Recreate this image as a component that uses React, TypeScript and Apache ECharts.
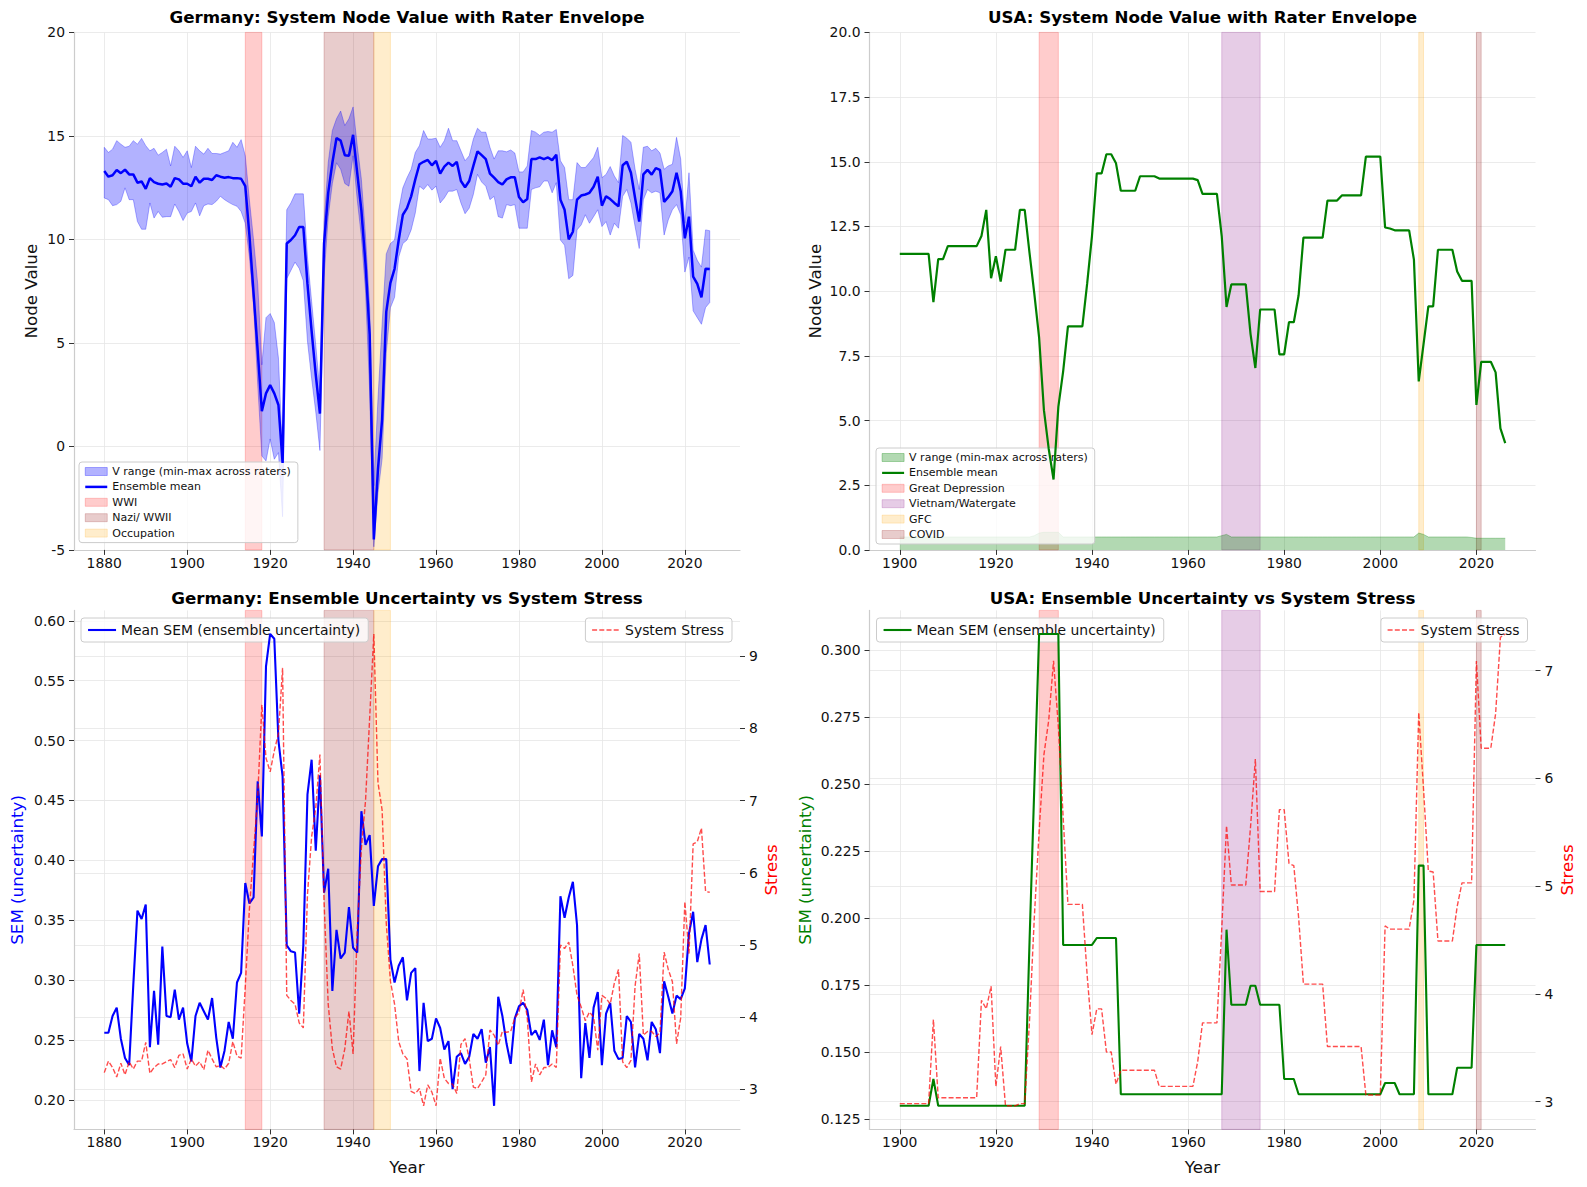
import React, { useEffect, useRef } from 'react';
import * as echarts from 'echarts';

const FONT = "'DejaVu Sans', sans-serif";
const SPINE = '#cccccc';
const TICK = '#333333';
const GRID = '#e6e6e6';
const TXT = '#111111';

// ---------------- Germany, 1880–2026 ----------------
const deYears = Array.from({ length: 147 }, (_, i) => 1880 + i);

const deMean = [
  13.3, 13.03, 13.1, 13.35, 13.2, 13.37, 13.14, 13.14, 12.74, 12.8,
  12.44, 12.96, 12.77, 12.69, 12.65, 12.7, 12.54, 12.96, 12.9, 12.69,
  12.69, 12.57, 13.03, 12.74, 12.93, 12.93, 12.87, 13.1, 13.03, 12.98,
  13.01, 12.96, 12.96, 12.93, 12.57, 10.2, 7.4, 4.6, 1.7, 2.56,
  2.96, 2.56, 2.0, -0.8, 9.8, 9.97, 10.2, 10.6, 10.6, 7.85,
  5.57, 3.45, 1.58, 9.8, 12.25, 13.7, 14.9, 14.77, 14.07, 14.04,
  15.05, 13.2, 11.4, 8.8, 5.4, -4.5, -1.1, 1.3, 6.5, 7.9,
  8.58, 9.97, 11.19, 11.51, 12.08, 12.9, 13.63, 13.75, 13.84, 13.58,
  13.79, 13.18, 13.52, 13.71, 13.55, 13.75, 12.82, 12.52, 12.82, 13.55,
  14.25, 14.07, 13.88, 13.18, 12.98, 12.77, 12.65, 12.9, 13.0, 13.0,
  12.05, 11.79, 11.95, 13.88, 13.88, 13.96, 13.88, 13.96, 13.83, 14.09,
  11.92, 11.43, 10.0, 10.37, 11.92, 12.12, 12.17, 12.25, 12.54, 13.03,
  11.63, 12.08, 11.95, 11.76, 11.6, 13.58, 13.75, 13.22, 12.0, 10.86,
  13.14, 13.36, 13.13, 13.44, 13.36, 11.81, 12.04, 12.33, 13.22, 12.33,
  10.05, 11.1, 8.2, 7.85, 7.2, 8.58, 8.57,
];

const deHigh = [
  14.45, 14.2, 14.36, 14.77, 14.6, 14.45, 14.5, 14.77, 14.6, 14.88,
  14.53, 14.28, 14.4, 14.07, 14.2, 14.36, 13.55, 14.5, 14.28, 13.96,
  14.28, 13.47, 14.5, 14.28, 14.12, 14.4, 14.15, 14.15, 14.12, 14.2,
  14.28, 14.69, 14.45, 14.82, 14.04, 11.9, 9.97, 7.85, 3.94, 6.22,
  6.42, 5.98, 4.27, -0.46, 11.43, 11.76, 12.2, 12.2, 12.2, 9.15,
  7.0, 4.89, 2.64, 10.8, 13.7, 15.26, 15.83, 16.2, 15.5, 15.83,
  16.4, 14.53, 12.9, 10.13, 6.7, -1.9, 2.3, 5.9, 9.3, 9.8,
  9.97, 11.43, 12.49, 12.98, 13.39, 14.2, 14.53, 15.26, 14.85, 14.85,
  14.89, 14.45, 14.77, 15.37, 14.77, 14.77, 14.28, 13.8, 14.04, 14.85,
  15.37, 15.18, 15.18, 14.45, 13.88, 14.28, 14.28, 14.23, 14.32, 14.17,
  13.26, 13.26, 13.55, 15.26, 15.18, 15.02, 15.18, 15.21, 15.18, 15.31,
  13.8, 13.47, 11.92, 11.92, 13.71, 13.47, 13.47, 13.71, 13.96, 14.45,
  12.98, 13.14, 13.52, 13.06, 12.74, 15.02, 14.89, 14.69, 13.39, 12.41,
  14.45, 14.5, 14.28, 14.4, 14.17, 13.39, 13.55, 13.63, 14.93, 13.88,
  10.78, 13.22, 9.48, 8.99, 8.66, 10.46, 10.42,
];

const deLow = [
  12.0, 11.92, 11.63, 11.68, 11.84, 12.49, 11.92, 11.92, 10.86, 10.49,
  10.49, 11.76, 11.03, 11.35, 11.07, 11.1, 11.1, 11.71, 11.35, 10.91,
  11.27, 11.35, 11.76, 11.14, 11.63, 11.71, 11.68, 11.84, 12.08, 11.92,
  11.79, 11.68, 11.6, 11.35, 10.78, 9.15, 6.8, 3.0, -0.46, -0.7,
  0.36, -0.62, -0.3, -3.4, 8.1, 8.5, 8.9, 8.6, 8.0, 5.08,
  3.29, 1.66, -0.2, 8.17, 11.1, 12.7, 13.7, 13.39, 12.7, 12.57,
  14.04, 11.92, 10.13, 7.52, 2.64, -4.85, -2.25, -0.6, 4.5, 6.7,
  7.2, 9.15, 9.8, 9.97, 10.46, 11.27, 12.57, 12.41, 12.65, 12.38,
  12.57, 11.76, 12.0, 12.33, 12.33, 12.41, 11.76, 11.24, 11.51, 12.17,
  13.14, 12.77, 12.57, 11.92, 12.08, 11.1, 11.03, 11.68, 11.63, 11.68,
  10.54, 10.54, 10.54, 12.41, 12.49, 12.54, 12.82, 12.82, 12.25, 12.74,
  9.97, 9.72, 8.1, 8.26, 10.46, 10.7, 11.19, 10.78, 11.1, 11.43,
  10.62, 10.86, 10.21, 10.78, 10.54, 12.08, 12.41, 11.76, 10.62, 9.56,
  11.92, 12.41, 12.25, 12.33, 12.25, 10.21, 10.94, 11.43, 11.68, 11.19,
  8.42, 9.15, 6.55, 6.22, 5.9, 6.71, 6.95,
];

const deSem = [
  0.256, 0.256, 0.27, 0.277, 0.251, 0.235, 0.229, 0.296, 0.358, 0.351,
  0.363, 0.244, 0.291, 0.246, 0.328, 0.27, 0.269, 0.292, 0.267, 0.277,
  0.247, 0.232, 0.27, 0.281, 0.274, 0.267, 0.285, 0.252, 0.227, 0.241,
  0.265, 0.251, 0.298, 0.306, 0.381, 0.364, 0.369, 0.466, 0.42, 0.562,
  0.589, 0.585, 0.5, 0.47, 0.329, 0.324, 0.323, 0.272, 0.329, 0.455,
  0.484, 0.408, 0.471, 0.373, 0.393, 0.291, 0.342, 0.318, 0.323, 0.361,
  0.327, 0.323, 0.441, 0.413, 0.421, 0.362, 0.395, 0.401, 0.401, 0.317,
  0.298, 0.312, 0.319, 0.283, 0.306, 0.31, 0.224, 0.281, 0.249, 0.251,
  0.268, 0.26, 0.242, 0.249, 0.209, 0.236, 0.239, 0.23, 0.236, 0.255,
  0.251, 0.259, 0.231, 0.244, 0.195, 0.286, 0.27, 0.247, 0.23, 0.268,
  0.278, 0.281, 0.275, 0.254, 0.258, 0.25, 0.267, 0.229, 0.258, 0.244,
  0.37, 0.352, 0.369, 0.382, 0.346, 0.218, 0.264, 0.235, 0.277, 0.29,
  0.229, 0.272, 0.281, 0.241, 0.234, 0.235, 0.27, 0.265, 0.227, 0.255,
  0.251, 0.233, 0.265, 0.259, 0.239, 0.299, 0.286, 0.272, 0.287, 0.284,
  0.293, 0.339, 0.357, 0.315, 0.334, 0.346, 0.313,
];

const deStress = [
  3.23, 3.39, 3.3, 3.17, 3.36, 3.2, 3.38, 3.28, 3.39, 3.39,
  3.65, 3.22, 3.3, 3.35, 3.35, 3.38, 3.41, 3.3, 3.47, 3.49,
  3.28, 3.42, 3.32, 3.38, 3.27, 3.54, 3.42, 3.31, 3.33, 3.28,
  3.36, 3.66, 3.46, 3.43, 4.42, 5.5, 6.29, 7.06, 8.33, 7.59,
  7.4, 7.69, 7.93, 8.84, 4.3, 4.23, 4.18, 3.92, 3.85, 5.7,
  6.5, 6.9, 7.64, 5.6, 4.18, 3.56, 3.31, 3.28, 3.56, 4.08,
  3.49, 5.2, 6.34, 7.0, 8.15, 9.31, 7.25, 6.87, 5.3, 4.5,
  4.18, 3.66, 3.49, 3.42, 2.97, 2.94, 3.01, 2.77, 3.06, 2.96,
  2.77, 3.43, 3.15, 3.08, 3.07, 2.94, 3.62, 3.7, 3.42, 3.03,
  3.01, 3.1, 3.2, 3.82, 3.75, 3.61, 3.8, 3.79, 3.8, 3.99,
  4.06, 4.38, 3.99, 3.1, 3.35, 3.2, 3.3, 3.3, 3.35, 3.3,
  5.0, 4.95, 5.04, 4.71, 4.3, 4.14, 3.95, 4.07, 4.0, 3.54,
  4.3, 4.26, 4.18, 4.47, 4.66, 3.38, 3.3, 3.4, 4.43, 4.88,
  3.75, 3.8, 3.8, 3.73, 3.78, 4.9, 4.66, 4.49, 3.63, 3.99,
  5.6, 4.88, 6.4, 6.43, 6.62, 5.74, 5.73,
];

// ---------------- USA, 1900–2026 ----------------
const usYears = Array.from({ length: 127 }, (_, i) => 1900 + i);

const usMean = [
  11.44, 11.44, 11.44, 11.44, 11.44, 11.44, 11.44, 9.58, 11.24, 11.24,
  11.74, 11.74, 11.74, 11.74, 11.74, 11.74, 11.74, 12.13, 13.14, 10.5,
  11.35, 10.37, 11.6, 11.6, 11.6, 13.14, 13.14, 11.48, 9.9, 8.2,
  5.4, 3.9, 2.72, 5.53, 6.9, 8.64, 8.64, 8.64, 8.64, 10.3,
  12.13, 14.55, 14.55, 15.29, 15.29, 14.94, 13.88, 13.88, 13.88, 13.88,
  14.44, 14.44, 14.44, 14.44, 14.35, 14.35, 14.35, 14.35, 14.35, 14.35,
  14.35, 14.35, 14.29, 13.76, 13.76, 13.76, 13.76, 12.13, 9.39, 10.26,
  10.26, 10.26, 10.26, 8.34, 7.03, 9.29, 9.29, 9.29, 9.29, 7.56,
  7.56, 8.8, 8.8, 9.84, 12.07, 12.07, 12.07, 12.07, 12.07, 13.5,
  13.5, 13.5, 13.7, 13.7, 13.7, 13.7, 13.7, 15.2, 15.2, 15.2,
  15.2, 12.46, 12.42, 12.35, 12.35, 12.35, 12.35, 11.22, 6.51, 7.95,
  9.41, 9.41, 11.6, 11.6, 11.6, 11.6, 10.76, 10.4, 10.4, 10.4,
  5.6, 7.27, 7.27, 7.27, 6.86, 4.7, 4.13,
];

const usHigh = [
  0.5, 0.5, 0.5, 0.5, 0.5, 0.5, 0.5, 0.5, 0.5, 0.5,
  0.5, 0.5, 0.5, 0.5, 0.5, 0.5, 0.5, 0.5, 0.5, 0.5,
  0.5, 0.5, 0.5, 0.5, 0.5, 0.5, 0.5, 0.5, 0.55, 0.65,
  0.68, 0.68, 0.68, 0.68, 0.5, 0.5, 0.5, 0.5, 0.5, 0.5,
  0.5, 0.5, 0.5, 0.5, 0.5, 0.5, 0.5, 0.5, 0.5, 0.5,
  0.5, 0.5, 0.5, 0.5, 0.5, 0.5, 0.5, 0.5, 0.5, 0.5,
  0.5, 0.5, 0.5, 0.5, 0.5, 0.5, 0.5, 0.55, 0.6, 0.5,
  0.5, 0.5, 0.5, 0.5, 0.5, 0.5, 0.5, 0.5, 0.5, 0.5,
  0.5, 0.5, 0.5, 0.5, 0.5, 0.5, 0.5, 0.5, 0.5, 0.5,
  0.5, 0.5, 0.5, 0.5, 0.5, 0.5, 0.5, 0.5, 0.5, 0.5,
  0.5, 0.5, 0.5, 0.5, 0.5, 0.5, 0.5, 0.5, 0.65, 0.6,
  0.5, 0.5, 0.5, 0.5, 0.5, 0.5, 0.5, 0.5, 0.5, 0.48,
  0.45, 0.45, 0.45, 0.45, 0.45, 0.45, 0.45,
];

const usSem = [
  0.13, 0.13, 0.13, 0.13, 0.13, 0.13, 0.13, 0.14, 0.13, 0.13,
  0.13, 0.13, 0.13, 0.13, 0.13, 0.13, 0.13, 0.13, 0.13, 0.13,
  0.13, 0.13, 0.13, 0.13, 0.13, 0.13, 0.13, 0.191, 0.249, 0.306,
  0.306, 0.306, 0.306, 0.306, 0.19, 0.19, 0.19, 0.19, 0.19, 0.19,
  0.19, 0.1926, 0.1926, 0.1926, 0.1926, 0.1926, 0.1343, 0.1343, 0.1343, 0.1343,
  0.1343, 0.1343, 0.1343, 0.1343, 0.1343, 0.1343, 0.1343, 0.1343, 0.1343, 0.1343,
  0.1343, 0.1343, 0.1343, 0.1343, 0.1343, 0.1343, 0.1343, 0.1343, 0.1957, 0.1677,
  0.1677, 0.1677, 0.1677, 0.1748, 0.1748, 0.1677, 0.1677, 0.1677, 0.1677, 0.1677,
  0.14, 0.14, 0.14, 0.1343, 0.1343, 0.1343, 0.1343, 0.1343, 0.1343, 0.1343,
  0.1343, 0.1343, 0.1343, 0.1343, 0.1343, 0.1343, 0.1343, 0.1343, 0.1343, 0.1343,
  0.1343, 0.1385, 0.1385, 0.1385, 0.1343, 0.1343, 0.1343, 0.1343, 0.2196, 0.2196,
  0.1343, 0.1343, 0.1343, 0.1343, 0.1343, 0.1343, 0.1442, 0.1442, 0.1442, 0.1442,
  0.19, 0.19, 0.19, 0.19, 0.19, 0.19, 0.19,
];

const usStress = [
  2.98, 2.98, 2.98, 2.98, 2.98, 2.98, 2.98, 3.76, 3.035, 3.035,
  3.035, 3.035, 3.035, 3.035, 3.035, 3.035, 3.035, 3.94, 3.86, 4.07,
  3.14, 3.51, 2.96, 2.96, 2.96, 2.98, 2.98, 3.75, 4.71, 5.51,
  6.22, 6.54, 7.09, 6.48, 5.64, 4.83, 4.83, 4.83, 4.83, 4.17,
  3.62, 3.86, 3.86, 3.46, 3.46, 3.16, 3.29, 3.29, 3.29, 3.29,
  3.29, 3.29, 3.29, 3.29, 3.14, 3.14, 3.14, 3.14, 3.14, 3.14,
  3.14, 3.14, 3.37, 3.73, 3.73, 3.73, 3.73, 4.6, 5.56, 5.01,
  5.01, 5.01, 5.01, 5.55, 6.18, 4.95, 4.95, 4.95, 4.95, 5.71,
  5.71, 5.21, 5.19, 4.71, 4.09, 4.09, 4.09, 4.09, 4.09, 3.51,
  3.51, 3.51, 3.51, 3.51, 3.51, 3.51, 3.51, 3.06, 3.06, 3.06,
  3.06, 4.63, 4.6, 4.6, 4.6, 4.6, 4.6, 4.87, 6.61, 5.9,
  5.14, 5.13, 4.49, 4.49, 4.49, 4.49, 4.81, 5.03, 5.03, 5.03,
  7.09, 6.28, 6.28, 6.28, 6.6, 7.31, 7.34,
];

// ---------------- shaded historical periods ----------------
const deEvents = [
  { name: 'WWI', from: 1914, to: 1918, color: 'rgba(255,0,0,0.2)' },
  { name: 'Nazi/ WWII', from: 1933, to: 1945, color: 'rgba(139,0,0,0.2)' },
  { name: 'Occupation', from: 1945, to: 1949, color: 'rgba(255,165,0,0.2)' },
];
const usEvents = [
  { name: 'Great Depression', from: 1929, to: 1933, color: 'rgba(255,0,0,0.2)' },
  { name: 'Vietnam/Watergate', from: 1967, to: 1975, color: 'rgba(128,0,128,0.2)' },
  { name: 'GFC', from: 2008, to: 2009, color: 'rgba(255,165,0,0.2)' },
  { name: 'COVID', from: 2020, to: 2021, color: 'rgba(139,0,0,0.2)' },
];

// ---------------- tick values ----------------
const deYearTicks = [1880, 1900, 1920, 1940, 1960, 1980, 2000, 2020];
const usYearTicks = [1900, 1920, 1940, 1960, 1980, 2000, 2020];
const deNodeTicks = [-5, 0, 5, 10, 15, 20];
const usNodeTicks = [0, 2.5, 5, 7.5, 10, 12.5, 15, 17.5, 20];
const deSemTicks = [0.2, 0.25, 0.3, 0.35, 0.4, 0.45, 0.5, 0.55, 0.6];
const deStressTicks = [3, 4, 5, 6, 7, 8, 9];
const usSemTicks = [0.125, 0.15, 0.175, 0.2, 0.225, 0.25, 0.275, 0.3];
const usStressTicks = [3, 4, 5, 6, 7];

// ---------------- helpers ----------------
const pairs = (xs: number[], ys: number[]) => xs.map((x, i) => [x, ys[i]]);
const padded = (vals: number[]): [number, number] => {
  const lo = Math.min(...vals);
  const hi = Math.max(...vals);
  const m = (hi - lo) * 0.05;
  return [lo - m, hi + m];
};

const labelText = { color: TXT, fontFamily: FONT, fontSize: 13.9 };
const nameText = { fontFamily: FONT, fontSize: 16.7 };

function yearAxis(years: number[], ticks: number[], withName: boolean) {
  const [min, max] = padded(years);
  return {
    type: 'value',
    min,
    max,
    axisLine: { show: true, onZero: false, lineStyle: { color: SPINE, width: 1.2 } },
    axisTick: { show: true, length: 5, customValues: ticks, lineStyle: { color: TICK, width: 1 } },
    axisLabel: { show: true, customValues: ticks, margin: 6, ...labelText, formatter: (v: number) => String(v) },
    splitLine: { show: true, lineStyle: { color: GRID, width: 0.8 } },
    name: withName ? 'Year' : '',
    nameLocation: 'middle',
    nameGap: 29,
    nameMoveOverlap: false,
    nameTextStyle: { ...nameText, color: TXT },
  };
}

function valueAxis(o: {
  min: number; max: number; ticks: number[]; digits: number; name: string;
  nameColor: string; nameGap: number; position: 'left' | 'right'; showLine: boolean;
}) {
  return {
    type: 'value',
    min: o.min,
    max: o.max,
    position: o.position,
    axisLine: { show: o.showLine, onZero: false, lineStyle: { color: SPINE, width: 1.2 } },
    axisTick: { show: true, length: 5, customValues: o.ticks, lineStyle: { color: TICK, width: 1 } },
    axisLabel: { show: true, customValues: o.ticks, margin: 9, ...labelText, formatter: (v: number) => v.toFixed(o.digits) },
    splitLine: { show: true, lineStyle: { color: GRID, width: 0.8 } },
    name: o.name,
    nameLocation: 'middle',
    nameRotate: 90,
    nameGap: o.nameGap,
    nameMoveOverlap: false,
    nameTextStyle: { ...nameText, color: o.nameColor },
  };
}

function bandSeries(events: typeof deEvents) {
  return events.map((e) => ({
    name: e.name,
    type: 'line',
    data: [],
    symbol: 'none',
    silent: true,
    markArea: {
      silent: true,
      itemStyle: { color: e.color, borderColor: e.color, borderWidth: 1 },
      data: [[{ xAxis: e.from }, { xAxis: e.to }]],
    },
  }));
}

// min–max envelope drawn as one polygon through the axis scales
function envelopeSeries(name: string, years: number[], low: number[], high: number[], color: string) {
  return {
    name,
    type: 'custom',
    coordinateSystem: 'cartesian2d',
    silent: true,
    z: 1,
    color,
    data: [[years[0], low[0]]],
    encode: { x: 0, y: 1 },
    renderItem: (_params: any, api: any) => {
      const top = years.map((y, i) => api.coord([y, high[i]]));
      const bottom = years.map((y, i) => api.coord([y, low[i]])).reverse();
      return {
        type: 'polygon',
        shape: { points: top.concat(bottom) },
        style: { fill: color, stroke: color, lineWidth: 1 },
      };
    },
  };
}

function legendBox(pos: Record<string, number>, fontSize: number, itemWidth: number, itemHeight: number,
  itemGap: number, padding: number[], data: any[]) {
  return {
    show: true,
    orient: 'vertical',
    ...pos,
    itemWidth,
    itemHeight,
    itemGap,
    padding,
    backgroundColor: 'rgba(255,255,255,0.8)',
    borderColor: '#cccccc',
    borderWidth: 1,
    borderRadius: 3,
    selectedMode: false,
    textStyle: { fontFamily: FONT, fontSize, color: TXT },
    data,
  };
}
const patchItem = (name: string, color: string) => ({
  name, icon: 'rect', itemStyle: { color, borderColor: color, borderWidth: 1, opacity: 1 },
});
const lineItem = (name: string, width: number) => ({
  name, itemStyle: { opacity: 0 }, lineStyle: { width },
});

function titleOpt(text: string, center: number, top: number) {
  return {
    text, left: center, top, textAlign: 'center', padding: 0,
    textStyle: { fontFamily: FONT, fontSize: 16.7, fontWeight: 'bold', color: '#000' },
  };
}

const PLOT_W = 666;
const DE_LEFT = 74;
const US_LEFT = 109.5;
const ENV_NAME = 'V range (min-max across raters)';

// ---------------- panel options ----------------
const deNodeOption = {
  animation: false,
  title: titleOpt('Germany: System Node Value with Rater Envelope', DE_LEFT + PLOT_W / 2, 8.8),
  grid: { left: DE_LEFT, top: 32.4, width: PLOT_W, height: 517.5, containLabel: false, outerBoundsMode: 'none' },
  xAxis: yearAxis(deYears, deYearTicks, false),
  yAxis: valueAxis({ min: -5, max: 20, ticks: deNodeTicks, digits: 0, name: 'Node Value', nameColor: TXT, nameGap: 35, position: 'left', showLine: true }),
  legend: legendBox({ left: 79, top: 462 }, 11, 22, 8, 4.4, [4, 7, 4, 5], [
    patchItem(ENV_NAME, 'rgba(0,0,255,0.3)'),
    lineItem('Ensemble mean', 2.5),
    ...deEvents.map((e) => patchItem(e.name, e.color)),
  ]),
  series: [
    envelopeSeries(ENV_NAME, deYears, deLow, deHigh, 'rgba(0,0,255,0.3)'),
    ...bandSeries(deEvents),
    {
      name: 'Ensemble mean', type: 'line', data: pairs(deYears, deMean), symbol: 'none', z: 5,
      color: '#0000ff', lineStyle: { color: '#0000ff', width: 2.5 },
    },
  ],
};

const usNodeOption = {
  animation: false,
  title: titleOpt('USA: System Node Value with Rater Envelope', US_LEFT + PLOT_W / 2, 8.8),
  grid: { left: US_LEFT, top: 32.4, width: PLOT_W, height: 517.5, containLabel: false, outerBoundsMode: 'none' },
  xAxis: yearAxis(usYears, usYearTicks, false),
  yAxis: valueAxis({ min: 0, max: 20, ticks: usNodeTicks, digits: 1, name: 'Node Value', nameColor: TXT, nameGap: 46, position: 'left', showLine: true }),
  legend: legendBox({ left: 116, top: 448 }, 11, 22, 8, 4.4, [4, 7, 4, 5], [
    patchItem(ENV_NAME, 'rgba(0,128,0,0.3)'),
    lineItem('Ensemble mean', 2.2),
    ...usEvents.map((e) => patchItem(e.name, e.color)),
  ]),
  series: [
    {
      name: ENV_NAME, type: 'line', data: pairs(usYears, usHigh), symbol: 'none', silent: true, z: 1,
      color: 'rgba(0,128,0,0.3)',
      lineStyle: { color: 'rgba(0,128,0,0.3)', width: 1 },
      areaStyle: { color: 'rgba(0,128,0,0.3)', opacity: 1, origin: 'start' },
    },
    ...bandSeries(usEvents),
    {
      name: 'Ensemble mean', type: 'line', data: pairs(usYears, usMean), symbol: 'none', z: 5,
      color: '#008000', lineStyle: { color: '#008000', width: 2.2 },
    },
  ],
};

function stressOption(o: {
  title: string; left: number; years: number[]; yearTicks: number[]; sem: number[]; stress: number[];
  semTicks: number[]; semDigits: number; stressTicks: number[]; events: typeof deEvents;
  semColor: string; semGap: number; leftLegend: number; rightLegend: number;
}) {
  const [semMin, semMax] = padded(o.sem);
  const [stMin, stMax] = padded(o.stress);
  return {
    animation: false,
    title: titleOpt(o.title, o.left + PLOT_W / 2, 4.7),
    grid: { left: o.left, top: 25.4, width: PLOT_W, height: 519, containLabel: false, outerBoundsMode: 'none' },
    xAxis: yearAxis(o.years, o.yearTicks, true),
    yAxis: [
      valueAxis({ min: semMin, max: semMax, ticks: o.semTicks, digits: o.semDigits, name: 'SEM (uncertainty)', nameColor: o.semColor, nameGap: o.semGap, position: 'left', showLine: true }),
      valueAxis({ min: stMin, max: stMax, ticks: o.stressTicks, digits: 0, name: 'Stress', nameColor: '#ff0000', nameGap: 22.7, position: 'right', showLine: false }),
    ],
    legend: [
      legendBox({ left: o.leftLegend, top: 33 }, 13.9, 28, 10, 5, [5, 8, 5, 6], [lineItem('Mean SEM (ensemble uncertainty)', 2.1)]),
      legendBox({ right: o.rightLegend, top: 33 }, 13.9, 28, 10, 5, [5, 8, 5, 6], [lineItem('System Stress', 1.4)]),
    ],
    series: [
      ...bandSeries(o.events),
      {
        name: 'Mean SEM (ensemble uncertainty)', type: 'line', yAxisIndex: 0, data: pairs(o.years, o.sem),
        symbol: 'none', z: 4, color: o.semColor, lineStyle: { color: o.semColor, width: 2.1 },
      },
      {
        name: 'System Stress', type: 'line', yAxisIndex: 1, data: pairs(o.years, o.stress),
        symbol: 'none', z: 6, color: 'rgba(255,0,0,0.7)',
        lineStyle: { color: 'rgba(255,0,0,0.7)', width: 1.4, type: [5, 2.2] },
      },
    ],
  };
}

const deStressOption = stressOption({
  title: 'Germany: Ensemble Uncertainty vs System Stress', left: DE_LEFT, years: deYears, yearTicks: deYearTicks,
  sem: deSem, stress: deStress, semTicks: deSemTicks, semDigits: 2, stressTicks: deStressTicks, events: deEvents,
  semColor: '#0000ff', semGap: 48.4, leftLegend: 81, rightLegend: 68,
});

const usStressOption = stressOption({
  title: 'USA: Ensemble Uncertainty vs System Stress', left: US_LEFT, years: usYears, yearTicks: usYearTicks,
  sem: usSem, stress: usStress, semTicks: usSemTicks, semDigits: 3, stressTicks: usStressTicks, events: usEvents,
  semColor: '#008000', semGap: 56.5, leftLegend: 116.5, rightLegend: 59.5,
});

function Panel({ option, left, top, width, height }: { option: any; left: number; top: number; width: number; height: number }) {
  const ref = useRef<HTMLDivElement>(null);
  useEffect(() => {
    const chart = echarts.init(ref.current!, null, { renderer: 'svg' });
    chart.setOption(option);
    return () => chart.dispose();
  }, [option]);
  return <div ref={ref} style={{ position: 'absolute', left, top, width, height }} />;
}

export default function App() {
  return (
    <div style={{ position: 'absolute', left: 0, top: 0, width: 1587, height: 1187, background: '#fff' }}>
      <Panel option={deNodeOption} left={0} top={0} width={800} height={585} />
      <Panel option={usNodeOption} left={760} top={0} width={827} height={585} />
      <Panel option={deStressOption} left={0} top={585} width={800} height={602} />
      <Panel option={usStressOption} left={760} top={585} width={827} height={602} />
    </div>
  );
}
